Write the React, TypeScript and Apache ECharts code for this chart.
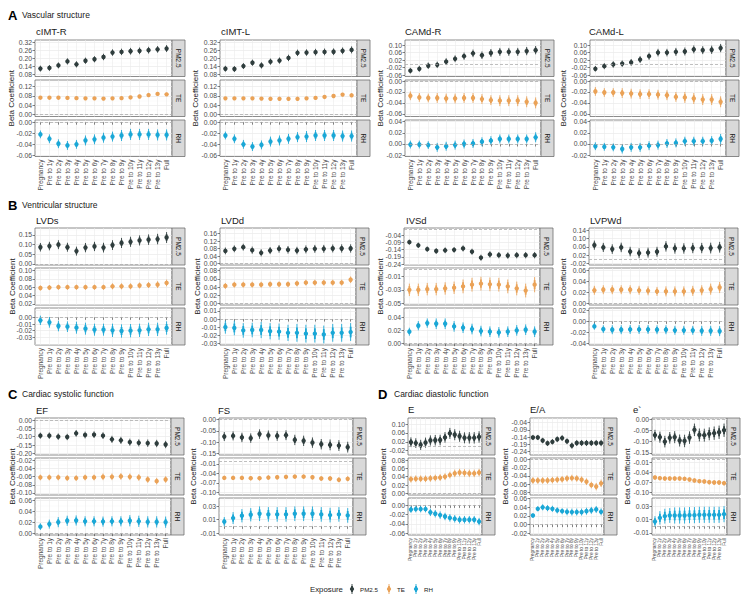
import React, { useEffect, useRef } from "react";
import * as echarts from "echarts";

// ---------- DATA ----------
const categories = [
  "Pregnancy", "Pre to 1y", "Pre to 2y", "Pre to 3y", "Pre to 4y", "Pre to 5y", "Pre to 6y",
  "Pre to 7y", "Pre to 8y", "Pre to 9y", "Pre to 10y", "Pre to 11y", "Pre to 12y", "Pre to 13y", "Full",
];
const exposures = ["PM2.5", "TE", "RH"];

// cIMT-R
const cimtR_PM25 = [0.124, 0.129, 0.148, 0.178, 0.156, 0.183, 0.194, 0.211, 0.244, 0.249, 0.254, 0.257, 0.262, 0.268, 0.274];
const cimtR_PM25_ci = [0.022, 0.022, 0.022, 0.023, 0.023, 0.023, 0.023, 0.024, 0.024, 0.024, 0.025, 0.025, 0.025, 0.025, 0.026];
const cimtR_TE = [0.072, 0.072, 0.072, 0.071, 0.07, 0.069, 0.069, 0.068, 0.069, 0.07, 0.073, 0.077, 0.083, 0.088, 0.086];
const cimtR_TE_ci = [0.006, 0.006, 0.006, 0.006, 0.006, 0.006, 0.006, 0.006, 0.006, 0.006, 0.006, 0.007, 0.007, 0.007, 0.007];
const cimtR_RH = [-0.022, -0.03, -0.039, -0.042, -0.04, -0.033, -0.031, -0.028, -0.026, -0.024, -0.022, -0.022, -0.022, -0.023, -0.023];
const cimtR_RH_ci = [0.007, 0.008, 0.008, 0.008, 0.008, 0.009, 0.009, 0.009, 0.009, 0.01, 0.01, 0.01, 0.01, 0.01, 0.01];
const cimtR_ticks = [[0.08, 0.14, 0.2, 0.26, 0.32], [0, 0.04, 0.08, 0.12], [-0.06, -0.04, -0.02, 0]];
const cimtR_range = [[0.065, 0.338], [-0.008, 0.147], [-0.062, 0.004]];

// cIMT-L
const cimtL_PM25 = [0.123, 0.121, 0.143, 0.168, 0.148, 0.176, 0.184, 0.204, 0.242, 0.244, 0.247, 0.249, 0.25, 0.257, 0.264];
const cimtL_PM25_ci = [0.022, 0.022, 0.022, 0.023, 0.023, 0.023, 0.023, 0.024, 0.024, 0.024, 0.025, 0.025, 0.025, 0.025, 0.026];
const cimtL_TE = [0.069, 0.069, 0.069, 0.069, 0.068, 0.067, 0.067, 0.067, 0.067, 0.069, 0.071, 0.075, 0.079, 0.085, 0.082];
const cimtL_TE_ci = [0.006, 0.006, 0.006, 0.006, 0.006, 0.006, 0.006, 0.006, 0.006, 0.006, 0.006, 0.007, 0.007, 0.007, 0.007];
const cimtL_RH = [-0.024, -0.03, -0.04, -0.044, -0.041, -0.035, -0.033, -0.03, -0.027, -0.026, -0.024, -0.024, -0.024, -0.025, -0.025];
const cimtL_RH_ci = [0.007, 0.008, 0.008, 0.008, 0.008, 0.009, 0.009, 0.009, 0.009, 0.01, 0.01, 0.01, 0.01, 0.01, 0.01];
const cimtL_ticks = [[0.08, 0.14, 0.2, 0.26, 0.32], [0, 0.04, 0.08, 0.12], [-0.06, -0.04, -0.02, 0]];
const cimtL_range = [[0.065, 0.338], [-0.008, 0.147], [-0.062, 0.004]];

// CAMd-R
const camdR_PM25 = [-0.036, -0.026, -0.01, -0.005, 0.012, 0.027, 0.041, 0.056, 0.046, 0.058, 0.064, 0.064, 0.064, 0.068, 0.073];
const camdR_PM25_ci = [0.015, 0.016, 0.017, 0.017, 0.018, 0.018, 0.019, 0.02, 0.02, 0.021, 0.021, 0.021, 0.021, 0.022, 0.022];
const camdR_TE = [-0.027, -0.03, -0.031, -0.031, -0.032, -0.032, -0.031, -0.031, -0.033, -0.035, -0.036, -0.036, -0.036, -0.038, -0.04];
const camdR_TE_ci = [0.008, 0.008, 0.008, 0.009, 0.009, 0.009, 0.009, 0.009, 0.009, 0.009, 0.01, 0.01, 0.01, 0.01, 0.01];
const camdR_RH = [-0.001, -0.001, -0.002, -0.006, -0.004, -0.002, 0.0, 0.001, 0.004, 0.006, 0.009, 0.009, 0.009, 0.009, 0.012];
const camdR_RH_ci = [0.007, 0.007, 0.007, 0.008, 0.008, 0.008, 0.008, 0.008, 0.008, 0.008, 0.008, 0.008, 0.008, 0.008, 0.009];
const camdR_ticks = [[-0.06, -0.02, 0.02, 0.06, 0.1], [-0.06, -0.04, -0.02, 0], [-0.02, 0, 0.02, 0.04]];
const camdR_range = [[-0.067, 0.127], [-0.065, 0.002], [-0.0224, 0.043]];

// CAMd-L
const camdL_PM25 = [-0.026, -0.012, -0.003, 0.001, 0.008, 0.023, 0.041, 0.06, 0.06, 0.064, 0.066, 0.077, 0.073, 0.075, 0.084];
const camdL_PM25_ci = [0.015, 0.016, 0.017, 0.017, 0.018, 0.018, 0.019, 0.02, 0.02, 0.021, 0.021, 0.021, 0.021, 0.022, 0.022];
const camdL_TE = [-0.019, -0.021, -0.021, -0.022, -0.023, -0.024, -0.024, -0.025, -0.026, -0.029, -0.03, -0.032, -0.034, -0.034, -0.038];
const camdL_TE_ci = [0.008, 0.008, 0.008, 0.009, 0.009, 0.009, 0.009, 0.009, 0.009, 0.009, 0.01, 0.01, 0.01, 0.01, 0.01];
const camdL_RH = [-0.004, -0.005, -0.006, -0.009, -0.006, -0.006, -0.003, -0.002, 0.001, 0.002, 0.005, 0.005, 0.005, 0.006, 0.009];
const camdL_RH_ci = [0.007, 0.007, 0.007, 0.008, 0.008, 0.008, 0.008, 0.008, 0.008, 0.008, 0.008, 0.008, 0.008, 0.008, 0.009];
const camdL_ticks = [[-0.06, -0.02, 0.02, 0.06, 0.1], [-0.06, -0.04, -0.02, 0], [-0.02, 0, 0.02, 0.04]];
const camdL_range = [[-0.067, 0.127], [-0.065, 0.002], [-0.0224, 0.043]];

// LVDs
const lvds_PM25 = [0.086, 0.092, 0.099, 0.086, 0.066, 0.084, 0.09, 0.084, 0.097, 0.108, 0.114, 0.121, 0.125, 0.128, 0.136];
const lvds_PM25_ci = [0.022, 0.022, 0.023, 0.023, 0.023, 0.024, 0.024, 0.025, 0.025, 0.026, 0.026, 0.026, 0.027, 0.027, 0.028];
const lvds_TE = [0.058, 0.059, 0.06, 0.06, 0.06, 0.06, 0.06, 0.06, 0.062, 0.062, 0.062, 0.064, 0.065, 0.066, 0.07];
const lvds_TE_ci = [0.006, 0.006, 0.006, 0.006, 0.006, 0.006, 0.006, 0.006, 0.007, 0.007, 0.007, 0.007, 0.007, 0.008, 0.008];
const lvds_RH = [-0.0045, -0.0075, -0.013, -0.014, -0.0155, -0.017, -0.0185, -0.0185, -0.0195, -0.0205, -0.02, -0.0195, -0.018, -0.018, -0.016];
const lvds_RH_ci = [0.007, 0.008, 0.008, 0.008, 0.009, 0.009, 0.009, 0.009, 0.01, 0.01, 0.01, 0.01, 0.01, 0.01, 0.01];
const lvds_ticks = [[0, 0.05, 0.1, 0.15], [0.02, 0.04, 0.06, 0.08, 0.1], [-0.04, -0.03, -0.02, -0.01, 0, 0.01]];
const lvds_range = [[-0.0055, 0.185], [0.0176, 0.1056], [-0.0415, 0.014]];

// LVDd
const lvdd_PM25 = [0.068, 0.079, 0.088, 0.072, 0.058, 0.07, 0.079, 0.074, 0.07, 0.076, 0.079, 0.079, 0.081, 0.081, 0.081];
const lvdd_PM25_ci = [0.018, 0.018, 0.018, 0.019, 0.019, 0.019, 0.02, 0.02, 0.02, 0.021, 0.021, 0.021, 0.021, 0.022, 0.022];
const lvdd_TE = [0.043, 0.046, 0.046, 0.046, 0.046, 0.047, 0.047, 0.047, 0.049, 0.051, 0.051, 0.051, 0.051, 0.051, 0.058];
const lvdd_TE_ci = [0.007, 0.007, 0.007, 0.007, 0.007, 0.007, 0.007, 0.007, 0.007, 0.007, 0.007, 0.007, 0.007, 0.007, 0.008];
const lvdd_RH = [-0.01, -0.011, -0.014, -0.0135, -0.0135, -0.015, -0.0155, -0.017, -0.017, -0.018, -0.018, -0.019, -0.017, -0.017, -0.016];
const lvdd_RH_ci = [0.008, 0.009, 0.009, 0.009, 0.01, 0.01, 0.01, 0.01, 0.011, 0.011, 0.011, 0.011, 0.011, 0.011, 0.011];
const lvdd_ticks = [[0, 0.04, 0.08, 0.12, 0.16], [0, 0.02, 0.04, 0.06, 0.08], [-0.03, -0.02, -0.01, 0, 0.01]];
const lvdd_range = [[-0.007, 0.19], [-0.0033, 0.0865], [-0.032, 0.0137]];

// IVSd
const ivsd_PM25 = [-0.087, -0.109, -0.136, -0.149, -0.144, -0.141, -0.131, -0.154, -0.196, -0.173, -0.178, -0.181, -0.178, -0.178, -0.178];
const ivsd_PM25_ci = [0.018, 0.019, 0.019, 0.02, 0.02, 0.02, 0.021, 0.021, 0.021, 0.022, 0.022, 0.022, 0.022, 0.022, 0.022];
const ivsd_TE = [-0.03, -0.03, -0.029, -0.029, -0.028, -0.027, -0.025, -0.0225, -0.021, -0.022, -0.0225, -0.025, -0.028, -0.031, -0.0225];
const ivsd_TE_ci = [0.009, 0.009, 0.009, 0.009, 0.009, 0.009, 0.01, 0.01, 0.01, 0.01, 0.01, 0.01, 0.01, 0.01, 0.011];
const ivsd_RH = [0.018, 0.027, 0.031, 0.03, 0.03, 0.026, 0.024, 0.022, 0.019, 0.018, 0.017, 0.018, 0.02, 0.021, 0.018];
const ivsd_RH_ci = [0.006, 0.007, 0.007, 0.008, 0.008, 0.008, 0.008, 0.008, 0.008, 0.008, 0.008, 0.008, 0.008, 0.008, 0.008];
const ivsd_ticks = [[-0.24, -0.19, -0.14, -0.09, -0.04], [-0.05, -0.03, -0.01], [0, 0.02, 0.04]];
const ivsd_range = [[-0.247, 0.012], [-0.052, 0.0017], [-0.002, 0.0537]];

// LVPWd
const lvpwd_PM25 = [0.068, 0.057, 0.049, 0.057, 0.037, 0.029, 0.032, 0.036, 0.062, 0.052, 0.052, 0.054, 0.054, 0.054, 0.058];
const lvpwd_PM25_ci = [0.022, 0.022, 0.023, 0.023, 0.023, 0.024, 0.024, 0.024, 0.025, 0.025, 0.025, 0.025, 0.025, 0.026, 0.026];
const lvpwd_TE = [0.024, 0.025, 0.025, 0.025, 0.025, 0.024, 0.023, 0.022, 0.022, 0.022, 0.022, 0.023, 0.024, 0.026, 0.029];
const lvpwd_TE_ci = [0.008, 0.008, 0.008, 0.008, 0.008, 0.008, 0.008, 0.008, 0.009, 0.009, 0.009, 0.009, 0.009, 0.01, 0.01];
const lvpwd_RH = [-0.009, -0.014, -0.015, -0.015, -0.0145, -0.0145, -0.0145, -0.015, -0.015, -0.016, -0.016, -0.016, -0.017, -0.017, -0.0175];
const lvpwd_RH_ci = [0.006, 0.007, 0.008, 0.008, 0.008, 0.008, 0.008, 0.008, 0.008, 0.008, 0.008, 0.008, 0.009, 0.009, 0.009];
const lvpwd_ticks = [[-0.02, 0.02, 0.06, 0.1, 0.14], [0, 0.02, 0.04, 0.06], [-0.04, -0.02, 0, 0.02]];
const lvpwd_range = [[-0.028, 0.151], [-0.0024, 0.064], [-0.0424, 0.024]];

// EF
const ef_PM25 = [-0.094, -0.094, -0.1, -0.102, -0.08, -0.09, -0.088, -0.094, -0.116, -0.122, -0.133, -0.137, -0.139, -0.141, -0.147];
const ef_PM25_ci = [0.018, 0.019, 0.019, 0.019, 0.02, 0.02, 0.02, 0.02, 0.021, 0.021, 0.021, 0.021, 0.022, 0.022, 0.022];
const ef_TE = [-0.062, -0.062, -0.062, -0.0635, -0.0635, -0.062, -0.062, -0.0605, -0.0605, -0.0595, -0.0605, -0.062, -0.067, -0.071, -0.067];
const ef_TE_ci = [0.007, 0.007, 0.007, 0.007, 0.007, 0.007, 0.007, 0.008, 0.008, 0.008, 0.008, 0.008, 0.008, 0.008, 0.008];
const ef_RH = [0.0125, 0.017, 0.0205, 0.023, 0.0235, 0.022, 0.022, 0.0215, 0.022, 0.022, 0.023, 0.022, 0.021, 0.021, 0.0205];
const ef_RH_ci = [0.006, 0.008, 0.009, 0.009, 0.009, 0.009, 0.009, 0.009, 0.009, 0.009, 0.01, 0.01, 0.01, 0.01, 0.01];
const ef_ticks = [[-0.2, -0.15, -0.1, -0.05, 0], [-0.1, -0.08, -0.06, -0.04, -0.02], [0, 0.02, 0.04, 0.06]];
const ef_range = [[-0.21, 0.012], [-0.105, -0.0143], [-0.0024, 0.0636]];

// FS
const fs_PM25 = [-0.075, -0.072, -0.079, -0.082, -0.064, -0.07, -0.072, -0.069, -0.09, -0.094, -0.102, -0.109, -0.112, -0.115, -0.122];
const fs_PM25_ci = [0.02, 0.02, 0.021, 0.021, 0.021, 0.022, 0.022, 0.022, 0.023, 0.023, 0.023, 0.023, 0.024, 0.024, 0.024];
const fs_TE = [-0.054, -0.054, -0.054, -0.055, -0.055, -0.053, -0.052, -0.051, -0.05, -0.05, -0.052, -0.056, -0.056, -0.06, -0.057];
const fs_TE_ci = [0.007, 0.007, 0.007, 0.007, 0.007, 0.007, 0.007, 0.007, 0.007, 0.007, 0.007, 0.007, 0.008, 0.008, 0.008];
const fs_RH = [0.007, 0.0125, 0.016, 0.0175, 0.019, 0.018, 0.018, 0.018, 0.019, 0.019, 0.019, 0.018, 0.017, 0.018, 0.0165];
const fs_RH_ci = [0.007, 0.009, 0.01, 0.01, 0.011, 0.011, 0.011, 0.011, 0.011, 0.011, 0.011, 0.011, 0.011, 0.011, 0.011];
const fs_ticks = [[-0.15, -0.1, -0.05, 0], [-0.1, -0.07, -0.04, -0.01], [-0.01, 0.01, 0.03]];
const fs_range = [[-0.157, 0.0075], [-0.108, 0.0088], [-0.013, 0.0427]];

// E
const e_PM25 = [0.018, 0.014, 0.006, 0.016, 0.026, 0.027, 0.028, 0.04, 0.058, 0.052, 0.045, 0.038, 0.038, 0.038, 0.042];
const e_PM25_ci = [0.022, 0.022, 0.023, 0.023, 0.023, 0.024, 0.024, 0.024, 0.025, 0.025, 0.025, 0.025, 0.026, 0.026, 0.026];
const e_TE = [0.034, 0.035, 0.035, 0.035, 0.036, 0.037, 0.038, 0.04, 0.044, 0.048, 0.05, 0.049, 0.048, 0.048, 0.05];
const e_TE_ci = [0.008, 0.008, 0.008, 0.008, 0.008, 0.008, 0.008, 0.008, 0.008, 0.009, 0.009, 0.009, 0.009, 0.009, 0.009];
const e_RH = [-0.009, -0.008, -0.008, -0.008, -0.015, -0.018, -0.021, -0.024, -0.027, -0.029, -0.031, -0.031, -0.031, -0.031, -0.035];
const e_RH_ci = [0.007, 0.007, 0.007, 0.007, 0.008, 0.008, 0.008, 0.008, 0.008, 0.008, 0.008, 0.008, 0.008, 0.008, 0.008];
const e_ticks = [[-0.02, 0.02, 0.06, 0.1], [0, 0.02, 0.04, 0.06, 0.08], [-0.06, -0.04, -0.02, 0]];
const e_range = [[-0.04, 0.128], [-0.004, 0.085], [-0.064, 0.016]];

// E/A
const ea_PM25 = [-0.142, -0.142, -0.163, -0.182, -0.172, -0.154, -0.146, -0.168, -0.198, -0.18, -0.18, -0.18, -0.18, -0.18, -0.18];
const ea_PM25_ci = [0.018, 0.018, 0.019, 0.019, 0.019, 0.02, 0.02, 0.02, 0.021, 0.021, 0.021, 0.021, 0.021, 0.021, 0.022];
const ea_TE = [-0.051, -0.051, -0.051, -0.051, -0.05, -0.049, -0.048, -0.046, -0.045, -0.046, -0.049, -0.054, -0.062, -0.066, -0.058];
const ea_TE_ci = [0.008, 0.008, 0.008, 0.008, 0.008, 0.008, 0.008, 0.008, 0.008, 0.008, 0.008, 0.008, 0.008, 0.009, 0.009];
const ea_RH = [0.021, 0.0365, 0.04, 0.038, 0.0365, 0.033, 0.031, 0.0295, 0.029, 0.029, 0.029, 0.031, 0.033, 0.035, 0.0295];
const ea_RH_ci = [0.005, 0.006, 0.007, 0.007, 0.007, 0.007, 0.007, 0.008, 0.008, 0.008, 0.008, 0.008, 0.008, 0.008, 0.008];
const ea_ticks = [[-0.24, -0.19, -0.14, -0.09, -0.04], [-0.08, -0.06, -0.04, -0.02, 0], [-0.02, 0, 0.02, 0.04, 0.06]];
const ea_range = [[-0.263, -0.0074], [-0.0865, 0.004], [-0.024, 0.0615]];

// e'
const ep_PM25 = [-0.071, -0.08, -0.1, -0.083, -0.08, -0.095, -0.097, -0.082, -0.047, -0.07, -0.071, -0.065, -0.062, -0.058, -0.049];
const ep_PM25_ci = [0.024, 0.025, 0.026, 0.026, 0.027, 0.027, 0.028, 0.028, 0.028, 0.029, 0.029, 0.029, 0.03, 0.03, 0.03];
const ep_TE = [-0.0555, -0.0575, -0.0585, -0.0585, -0.0585, -0.0585, -0.0595, -0.0615, -0.0645, -0.0665, -0.0675, -0.0695, -0.0705, -0.0705, -0.0725];
const ep_TE_ci = [0.006, 0.006, 0.006, 0.006, 0.006, 0.006, 0.006, 0.006, 0.006, 0.006, 0.006, 0.007, 0.007, 0.007, 0.007];
const ep_RH = [0.007, 0.0125, 0.015, 0.016, 0.016, 0.016, 0.016, 0.0165, 0.0165, 0.017, 0.017, 0.017, 0.017, 0.017, 0.018];
const ep_RH_ci = [0.008, 0.01, 0.011, 0.011, 0.012, 0.012, 0.012, 0.012, 0.012, 0.012, 0.012, 0.012, 0.012, 0.012, 0.012];
const ep_ticks = [[-0.15, -0.1, -0.05, 0], [-0.1, -0.07, -0.04, -0.01], [-0.01, 0.01, 0.03]];
const ep_range = [[-0.16, 0.006], [-0.108, 0.003], [-0.013, 0.042]];

const charts = [
  { title: "cIMT-R", est: [cimtR_PM25, cimtR_TE, cimtR_RH], ci: [cimtR_PM25_ci, cimtR_TE_ci, cimtR_RH_ci], ticks: cimtR_ticks, range: cimtR_range },
  { title: "cIMT-L", est: [cimtL_PM25, cimtL_TE, cimtL_RH], ci: [cimtL_PM25_ci, cimtL_TE_ci, cimtL_RH_ci], ticks: cimtL_ticks, range: cimtL_range },
  { title: "CAMd-R", est: [camdR_PM25, camdR_TE, camdR_RH], ci: [camdR_PM25_ci, camdR_TE_ci, camdR_RH_ci], ticks: camdR_ticks, range: camdR_range },
  { title: "CAMd-L", est: [camdL_PM25, camdL_TE, camdL_RH], ci: [camdL_PM25_ci, camdL_TE_ci, camdL_RH_ci], ticks: camdL_ticks, range: camdL_range },
  { title: "LVDs", est: [lvds_PM25, lvds_TE, lvds_RH], ci: [lvds_PM25_ci, lvds_TE_ci, lvds_RH_ci], ticks: lvds_ticks, range: lvds_range },
  { title: "LVDd", est: [lvdd_PM25, lvdd_TE, lvdd_RH], ci: [lvdd_PM25_ci, lvdd_TE_ci, lvdd_RH_ci], ticks: lvdd_ticks, range: lvdd_range },
  { title: "IVSd", est: [ivsd_PM25, ivsd_TE, ivsd_RH], ci: [ivsd_PM25_ci, ivsd_TE_ci, ivsd_RH_ci], ticks: ivsd_ticks, range: ivsd_range },
  { title: "LVPWd", est: [lvpwd_PM25, lvpwd_TE, lvpwd_RH], ci: [lvpwd_PM25_ci, lvpwd_TE_ci, lvpwd_RH_ci], ticks: lvpwd_ticks, range: lvpwd_range },
  { title: "EF", est: [ef_PM25, ef_TE, ef_RH], ci: [ef_PM25_ci, ef_TE_ci, ef_RH_ci], ticks: ef_ticks, range: ef_range },
  { title: "FS", est: [fs_PM25, fs_TE, fs_RH], ci: [fs_PM25_ci, fs_TE_ci, fs_RH_ci], ticks: fs_ticks, range: fs_range },
  { title: "E", est: [e_PM25, e_TE, e_RH], ci: [e_PM25_ci, e_TE_ci, e_RH_ci], ticks: e_ticks, range: e_range },
  { title: "E/A", est: [ea_PM25, ea_TE, ea_RH], ci: [ea_PM25_ci, ea_TE_ci, ea_RH_ci], ticks: ea_ticks, range: ea_range },
  { title: "e`", est: [ep_PM25, ep_TE, ep_RH], ci: [ep_PM25_ci, ep_TE_ci, ep_RH_ci], ticks: ep_ticks, range: ep_range },
];

const sections = [
  { letter: "A", text: "Vascular structure" },
  { letter: "B", text: "Ventricular structure" },
  { letter: "C", text: "Cardiac systolic function" },
  { letter: "D", text: "Cardiac diastolic function" },
];

// ---------- LAYOUT / STYLE ----------
const COLORS = ["#2F3D3D", "#EAA257", "#1AA7D6"];
const FONT = "'Liberation Sans', Arial, sans-serif";
const rowA = [40, 80, 120];
const rowB = [228, 268, 308];
const rowC = [418, 458, 498];
const STRIP_W = 13;

const layouts = [
  { left: 35, width: 137, tops: rowA, h: 36.5, titleX: 36, titleY: 31, yNameX: 11, xFont: 6.5 },
  { left: 220, width: 137, tops: rowA, h: 36.5, titleX: 221, titleY: 31, yNameX: 195, xFont: 6.5 },
  { left: 405, width: 136, tops: rowA, h: 36.5, titleX: 405, titleY: 31, yNameX: 380, xFont: 6.5 },
  { left: 590, width: 136, tops: rowA, h: 36.5, titleX: 589, titleY: 31, yNameX: 563, xFont: 6.5 },
  { left: 35, width: 137, tops: rowB, h: 37, titleX: 36, titleY: 220, yNameX: 12, xFont: 6.5 },
  { left: 220, width: 136, tops: rowB, h: 37, titleX: 221, titleY: 220, yNameX: 197, xFont: 6.5 },
  { left: 404, width: 136, tops: rowB, h: 37, titleX: 406, titleY: 220, yNameX: 380, xFont: 6.5 },
  { left: 589, width: 136, tops: rowB, h: 37, titleX: 590, titleY: 220, yNameX: 563, xFont: 6.5 },
  { left: 35, width: 136, tops: rowC, h: 37, titleX: 36, titleY: 410, yNameX: 12, xFont: 6.5 },
  { left: 219, width: 134, tops: rowC, h: 37, titleX: 218, titleY: 410, yNameX: 193, xFont: 6.5 },
  { left: 408, width: 74, tops: rowC, h: 37, titleX: 408, titleY: 409, yNameX: 383, xFont: 4.8 },
  { left: 530, width: 74, tops: rowC, h: 37, titleX: 530, titleY: 409, yNameX: 505, xFont: 4.8 },
  { left: 652, width: 75, tops: rowC, h: 37, titleX: 633, titleY: 409, yNameX: 627, xFont: 4.8 },
];
const sectionPos = [
  { x: 8, tx: 22, y: 15 },
  { x: 8, tx: 22, y: 205 },
  { x: 8, tx: 22, y: 394 },
  { x: 378, tx: 394, y: 394 },
];

const xPositions = categories.map((_, i) => i + 1);

function fmt(v: number) {
  if (Math.abs(v) < 1e-9) return "0.00";
  return v.toFixed(2);
}

function minorsOf(ticks: number[], mn: number, mx: number) {
  const step = ticks[1] - ticks[0];
  const out: number[] = [];
  for (let i = -1; i < ticks.length; i++) {
    const v = ticks[0] + (i + 0.5) * step;
    if (v > mn && v < mx) out.push(v);
  }
  return out;
}

function makeRender(color: string) {
  return (params: any, api: any) => {
    const x = api.value(0);
    const e = api.value(1);
    const lo = api.value(2);
    const hi = api.value(3);
    const pe = api.coord([x, e]);
    const pl = api.coord([x, lo]);
    const ph = api.coord([x, hi]);
    const il = api.coord([x, e - (e - lo) * 0.6]);
    const ih = api.coord([x, e + (hi - e) * 0.6]);
    return {
      type: "group",
      children: [
        { type: "line", shape: { x1: pe[0], y1: pl[1], x2: pe[0], y2: ph[1] }, style: { stroke: color, lineWidth: 0.9 } },
        { type: "line", shape: { x1: pe[0], y1: il[1], x2: pe[0], y2: ih[1] }, style: { stroke: color, lineWidth: 1.8 } },
        { type: "circle", shape: { cx: pe[0], cy: pe[1], r: 2.2 }, style: { fill: color } },
      ],
    };
  };
}

function buildOption() {
  const grids: any[] = [];
  const xAxes: any[] = [];
  const yAxes: any[] = [];
  const series: any[] = [];
  const graphics: any[] = [];

  charts.forEach((ch, ci) => {
    const L = layouts[ci];
    for (let p = 0; p < 3; p++) {
      const gi = grids.length;
      const top = L.tops[p];
      const last = p === 2;
      const [mn, mx] = ch.range[p];
      const ticks = ch.ticks[p];
      grids.push({
        left: L.left, top, width: L.width, height: L.h,
        show: true, borderColor: "#6E6E6E", borderWidth: 0.8, backgroundColor: "#FFFFFF",
        containLabel: false, outerBoundsMode: "none",
      });
      xAxes.push({
        gridIndex: gi, type: "value", min: 0.4, max: 15.6,
        axisLine: { show: false },
        axisTick: { show: last, customValues: xPositions, length: 2.5, lineStyle: { color: "#333333", width: 0.6 } },
        axisLabel: {
          show: last, customValues: xPositions, rotate: 90, fontSize: L.xFont, color: "#4D4D4D", margin: 3,
          fontFamily: FONT, formatter: (v: number) => categories[Math.round(v) - 1] ?? "",
        },
        splitLine: { show: true, lineStyle: { color: "#EBEBEB", width: 0.6 } },
      });
      const yMain = yAxes.length;
      yAxes.push({
        gridIndex: gi, type: "value", min: mn, max: mx, position: "left",
        axisLine: { show: false },
        axisTick: { show: true, customValues: ticks, length: 2.5, lineStyle: { color: "#333333", width: 0.6 } },
        axisLabel: { customValues: ticks, fontSize: 6.8, color: "#4D4D4D", margin: 3, fontFamily: FONT, formatter: (v: number) => fmt(v) },
        splitLine: { show: true, lineStyle: { color: "#E6E6E6", width: 0.6 } },
      });
      const minors = minorsOf(ticks, mn, mx);
      yAxes.push({
        gridIndex: gi, type: "value", min: mn, max: mx, position: "right",
        axisLine: { show: false },
        axisTick: { show: false, customValues: minors },
        axisLabel: { show: false, customValues: minors },
        splitLine: { show: true, lineStyle: { color: "#F2F2F2", width: 0.4 } },
      });
      const est = ch.est[p];
      const cis = ch.ci[p];
      const zeroIn = mn < 0 && mx > 0;
      series.push({
        type: "custom",
        xAxisIndex: gi,
        yAxisIndex: yMain,
        renderItem: makeRender(COLORS[p]),
        encode: { x: 0, y: [1, 2, 3] },
        data: est.map((e, i) => [i + 1, e, e - cis[i], e + cis[i]]),
        silent: true,
        z: 3,
        markLine: zeroIn
          ? {
              silent: true, symbol: ["none", "none"], label: { show: false },
              lineStyle: { type: [3, 2], color: "#A3A3A3", width: 0.7 },
              data: [{ yAxis: 0 }],
            }
          : undefined,
      });
      // strip
      const sx = L.left + L.width;
      graphics.push({
        type: "rect", shape: { x: sx, y: top, width: STRIP_W, height: L.h },
        style: { fill: "#D9D9D9", stroke: "#6E6E6E", lineWidth: 0.8 }, silent: true,
      });
      graphics.push({
        type: "text", x: sx + STRIP_W / 2, y: top + L.h / 2, rotation: -Math.PI / 2,
        style: {
          text: exposures[p], fill: "#1A1A1A", fontSize: 6.5, fontFamily: FONT,
          align: "center", verticalAlign: "middle", textAlign: "center", textVerticalAlign: "middle",
        }, silent: true,
      });
    }
    // title
    graphics.push({
      type: "text", x: L.titleX, y: L.titleY,
      style: { text: ch.title, fill: "#1A1A1A", fontSize: 9.5, fontFamily: FONT, align: "left", verticalAlign: "middle", textAlign: "left", textVerticalAlign: "middle" },
      silent: true,
    });
    // y axis name
    graphics.push({
      type: "text", x: L.yNameX, y: L.tops[1] + L.h / 2, rotation: Math.PI / 2,
      style: { text: "Beta Coefficient", fill: "#1A1A1A", fontSize: 8, fontFamily: FONT, align: "center", verticalAlign: "middle", textAlign: "center", textVerticalAlign: "middle" },
      silent: true,
    });
  });

  sections.forEach((s, i) => {
    const P = sectionPos[i];
    graphics.push({
      type: "text", x: P.x, y: P.y,
      style: { text: s.letter, fill: "#000000", fontSize: 13, fontWeight: "bold", fontFamily: FONT, align: "left", verticalAlign: "middle", textAlign: "left", textVerticalAlign: "middle" },
      silent: true,
    });
    graphics.push({
      type: "text", x: P.tx, y: P.y,
      style: { text: s.text, fill: "#1A1A1A", fontSize: 8.5, fontFamily: FONT, align: "left", verticalAlign: "middle", textAlign: "left", textVerticalAlign: "middle" },
      silent: true,
    });
  });

  // legend
  const ly = 589;
  graphics.push({
    type: "text", x: 310, y: ly,
    style: { text: "Exposure", fill: "#1A1A1A", fontSize: 7.8, fontFamily: FONT, align: "left", verticalAlign: "middle", textAlign: "left", textVerticalAlign: "middle" },
    silent: true,
  });
  const legendX = [352, 389, 416];
  exposures.forEach((name, i) => {
    const mx = legendX[i];
    graphics.push({ type: "line", shape: { x1: mx, y1: ly - 5, x2: mx, y2: ly + 5 }, style: { stroke: COLORS[i], lineWidth: 0.9 }, silent: true });
    graphics.push({ type: "line", shape: { x1: mx, y1: ly - 3, x2: mx, y2: ly + 3 }, style: { stroke: COLORS[i], lineWidth: 1.8 }, silent: true });
    graphics.push({ type: "circle", shape: { cx: mx, cy: ly, r: 2.1 }, style: { fill: COLORS[i] }, silent: true });
    graphics.push({
      type: "text", x: mx + 8, y: ly,
      style: { text: name, fill: "#1A1A1A", fontSize: 6.2, fontFamily: FONT, align: "left", verticalAlign: "middle", textAlign: "left", textVerticalAlign: "middle" },
      silent: true,
    });
  });

  return {
    animation: false,
    backgroundColor: "#FFFFFF",
    textStyle: { fontFamily: FONT },
    grid: grids,
    xAxis: xAxes,
    yAxis: yAxes,
    series,
    graphic: { elements: graphics },
  };
}

export default function App() {
  const ref = useRef<HTMLDivElement>(null);
  useEffect(() => {
    document.body.style.margin = "0";
    const chart = echarts.init(ref.current as HTMLDivElement, null, { renderer: "svg", width: 752, height: 601 });
    chart.setOption(buildOption() as any);
    return () => {
      chart.dispose();
    };
  }, []);
  return <div ref={ref} style={{ width: 752, height: 601, position: "absolute", left: 0, top: 0 }} />;
}
